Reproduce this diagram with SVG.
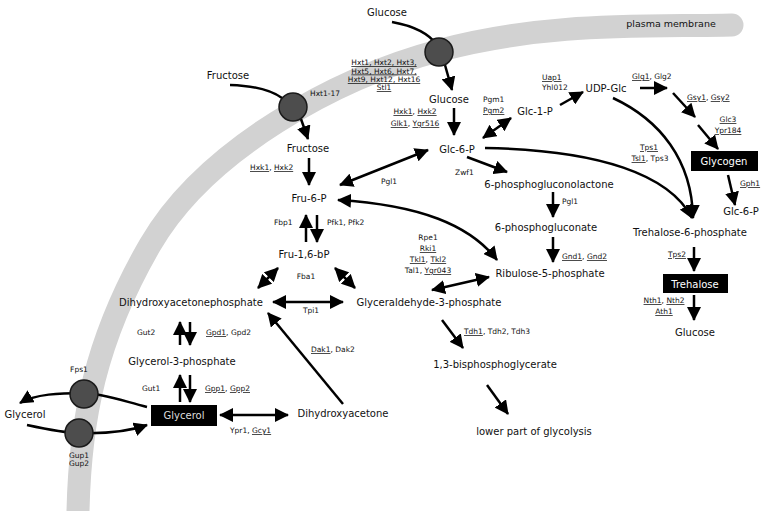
<svg xmlns="http://www.w3.org/2000/svg" width="767" height="511" viewBox="0 0 767 511">
<defs>
<marker id="ah" viewBox="0 0 14 14" refX="13" refY="7" markerWidth="14" markerHeight="14" markerUnits="userSpaceOnUse" orient="auto-start-reverse"><path d="M0,0 L14,7 L0,14 z" fill="#000"/></marker>
<style>
.m{font-family:"DejaVu Sans",sans-serif;font-size:10px;fill:#111;text-anchor:middle}
.e{font-family:"DejaVu Sans",sans-serif;font-size:7.5px;fill:#111}
.c{text-anchor:middle}
.u{text-decoration:underline}
.w{font-family:"DejaVu Sans",sans-serif;font-size:10px;fill:#fff;text-anchor:middle}
.ln{fill:none;stroke:#000;stroke-width:2.5}
.a{marker-end:url(#ah)}
.d{marker-start:url(#ah);marker-end:url(#ah)}
.t{fill:#4d4d4d;stroke:#1a1a1a;stroke-width:1.5}
.box{fill:#000}
</style>
</defs>
<rect width="767" height="511" fill="#fff"/>
<g id="membrane">
<path d="M78,511 C80,420 95,340 150,245 S 335,78 441,50 S 640,27 732,25" fill="none" stroke="#d2d2d2" stroke-width="23" stroke-linecap="round"/>
<text x="671" y="27" class="m" style="font-size:9.5px">plasma membrane</text>
</g>
<g id="connectors">
<path class="ln" d="M392,22 Q425,28 437,45"/>
<path class="ln a" d="M445,65 L452,90"/>
<path class="ln" d="M230,85 Q265,86 282,98"/>
<path class="ln a" d="M301,119 L308,139"/>
<path class="ln a" d="M309,158 L309,185"/>
<path class="ln a" d="M454,108 L454,135"/>
<path class="ln d" d="M428,150 L340,185"/>
<path class="ln d" d="M338,200 C420,205 470,225 497,260"/>
<path class="ln a" d="M306,242 L306,215"/>
<path class="ln a" d="M317,215 L317,242"/>
<path class="ln d" d="M278,268 L258,288"/>
<path class="ln d" d="M335,268 L355,288"/>
<path class="ln d" d="M273,302 L343,302"/>
<path class="ln d" d="M483,138 L511,118"/>
<path class="ln a" d="M560,105 L583,92"/>
<path class="ln a" d="M640,88 L667,88"/>
<path class="ln a" d="M673,93 L695,117"/>
<path class="ln a" d="M698,125 L718,149"/>
<path class="ln a" d="M728,175 L735,205"/>
<path class="ln a" d="M613,98 C660,120 692,160 693,218"/>
<path class="ln a" d="M485,148 C600,150 670,175 692,218"/>
<path class="ln a" d="M467,157 L507,172"/>
<path class="ln a" d="M553,192 L553,217"/>
<path class="ln a" d="M553,237 L553,262"/>
<path class="ln d" d="M432,290 L489,277"/>
<path class="ln a" d="M442,320 L463,348"/>
<path class="ln a" d="M487,385 L508,414"/>
<path class="ln a" d="M694,247 L694,271"/>
<path class="ln a" d="M694,295 L694,320"/>
<path class="ln a" d="M180,345 L180,322"/>
<path class="ln a" d="M190,322 L190,345"/>
<path class="ln a" d="M180,402 L180,375"/>
<path class="ln a" d="M190,375 L190,402"/>
<path class="ln d" d="M220,415 L288,415"/>
<path class="ln a" d="M343,404 L268,313"/>
<path class="ln a" d="M147,407 C120,400 100,393 84,393 C60,393 35,394 20,403"/>
<path class="ln a" d="M27,425 C50,430 65,433 79,433 C110,434 130,431 147,425"/>
</g>
<g id="hxt-glucose"><circle class="t" cx="439" cy="52" r="14"/>
<text class="e c"><tspan x="384" y="65" class="u">Hxt1, Hxt2, Hxt3,</tspan><tspan x="384" y="73.5" class="u">Hxt5, Hxt6, Hxt7,</tspan><tspan x="384" y="82" class="u">Hxt9, Hxt12, Hxt16</tspan><tspan x="384" y="90" class="u">Stl1</tspan></text></g>
<g id="hxt-fructose"><circle class="t" cx="293" cy="107" r="14"/><text class="e" x="310" y="96">Hxt1-17</text></g>
<g id="fps1"><circle class="t" cx="84" cy="394" r="14"/><text class="e c" x="79" y="372">Fps1</text></g>
<g id="gup"><circle class="t" cx="79" cy="433" r="14"/><text class="e c"><tspan x="79" y="458">Gup1</tspan><tspan x="79" y="466">Gup2</tspan></text></g>
<g id="glucose-out"><text class="m" x="387" y="16">Glucose</text></g>
<g id="fructose-out"><text class="m" x="228" y="79">Fructose</text></g>
<g id="glycerol-out"><text class="m" x="25" y="418">Glycerol</text></g>
<g id="fructose"><text class="m" x="308" y="152">Fructose</text></g>
<g id="glucose"><text class="m" x="449" y="103">Glucose</text></g>
<g id="fru6p"><text class="m" x="309" y="202">Fru-6-P</text></g>
<g id="glc6p"><text class="m" x="457" y="153">Glc-6-P</text></g>
<g id="glc1p"><text class="m" x="535" y="115">Glc-1-P</text></g>
<g id="udpglc"><text class="m" x="606" y="92">UDP-Glc</text></g>
<g id="fru16bp"><text class="m" x="304" y="258">Fru-1,6-bP</text></g>
<g id="pglactone"><text class="m" x="549" y="188">6-phosphogluconolactone</text></g>
<g id="pgluconate"><text class="m" x="546" y="231">6-phosphogluconate</text></g>
<g id="ru5p"><text class="m" x="550" y="277">Ribulose-5-phosphate</text></g>
<g id="dhap"><text class="m" x="191" y="306">Dihydroxyacetonephosphate</text></g>
<g id="gap"><text class="m" x="429" y="306">Glyceraldehyde-3-phosphate</text></g>
<g id="g3p"><text class="m" x="182" y="365">Glycerol-3-phosphate</text></g>
<g id="bpg"><text class="m" x="495" y="368">1,3-bisphosphoglycerate</text></g>
<g id="dha"><text class="m" x="343" y="417">Dihydroxyacetone</text></g>
<g id="lower"><text class="m" x="534" y="435">lower part of glycolysis</text></g>
<g id="t6p"><text class="m" x="690" y="236">Trehalose-6-phosphate</text></g>
<g id="glc6p-2"><text class="m" x="741" y="215">Glc-6-P</text></g>
<g id="glucose-2"><text class="m" x="695" y="336">Glucose</text></g>
<g id="glycogen"><rect class="box" x="691" y="151" width="67" height="20"/><text class="w" x="724" y="165">Glycogen</text></g>
<g id="trehalose"><rect class="box" x="663" y="274" width="65" height="19"/><text class="w" x="695" y="288">Trehalose</text></g>
<g id="glycerol"><rect class="box" x="151" y="405" width="66" height="21"/><text class="w" x="184" y="419" style="fill:#ddd">Glycerol</text></g>
<g id="enzymes">
<text class="e" x="250" y="170"><tspan class="u">Hxk1</tspan>, <tspan class="u">Hxk2</tspan></text>
<text class="e c" x="415" y="114"><tspan class="u">Hxk1</tspan>, <tspan class="u">Hxk2</tspan></text>
<text class="e c" x="415" y="126"><tspan class="u">Glk1</tspan>, <tspan class="u">Ygr516</tspan></text>
<text class="e"><tspan x="483" y="102">Pgm1</tspan><tspan x="483" y="113" class="u">Pgm2</tspan></text>
<text class="e"><tspan x="542" y="80" class="u">Uap1</tspan><tspan x="542" y="90">Yhl012</tspan></text>
<text class="e" x="632" y="79"><tspan class="u">Glg1</tspan>, Glg2</text>
<text class="e" x="687" y="100"><tspan class="u">Gsy1</tspan>, <tspan class="u">Gsy2</tspan></text>
<text class="e c"><tspan x="728" y="122" class="u">Glc3</tspan><tspan x="728" y="133" class="u">Ypr184</tspan></text>
<text class="e" x="740" y="186"><tspan class="u">Gph1</tspan></text>
<text class="e c"><tspan x="649" y="150" class="u">Tps1</tspan><tspan x="650" y="161"><tspan class="u">Tsl1</tspan>, Tps3</tspan></text>
<text class="e c" x="389" y="184">Pgl1</text>
<text class="e" x="455" y="175">Zwf1</text>
<text class="e" x="562" y="204">Pgl1</text>
<text class="e" x="562" y="259"><tspan class="u">Gnd1</tspan>, <tspan class="u">Gnd2</tspan></text>
<text class="e c"><tspan x="428" y="240">Rpe1</tspan><tspan x="428" y="251" class="u">Rki1</tspan><tspan x="428" y="262"><tspan class="u">Tkl1</tspan>, <tspan class="u">Tkl2</tspan></tspan><tspan x="428" y="273">Tal1, <tspan class="u">Ygr043</tspan></tspan></text>
<text class="e" x="274" y="225">Fbp1</text>
<text class="e" x="327" y="225">Pfk1, Pfk2</text>
<text class="e c" x="306" y="279">Fba1</text>
<text class="e c" x="311" y="313">Tpi1</text>
<text class="e c" x="677" y="257"><tspan class="u">Tps2</tspan></text>
<text class="e c"><tspan x="664" y="303"><tspan class="u">Nth1</tspan>, <tspan class="u">Nth2</tspan></tspan><tspan x="664" y="314" class="u">Ath1</tspan></text>
<text class="e" x="464" y="334"><tspan class="u">Tdh1</tspan>, Tdh2, Tdh3</text>
<text class="e" x="137" y="335">Gut2</text>
<text class="e" x="206" y="335"><tspan class="u">Gpd1</tspan>, Gpd2</text>
<text class="e" x="142" y="391">Gut1</text>
<text class="e" x="205" y="391"><tspan class="u">Gpp1</tspan>, <tspan class="u">Gpp2</tspan></text>
<text class="e" x="311" y="352"><tspan class="u">Dak1</tspan>, Dak2</text>
<text class="e" x="230" y="433">Ypr1, <tspan class="u">Gcy1</tspan></text>
</g>
</svg>
